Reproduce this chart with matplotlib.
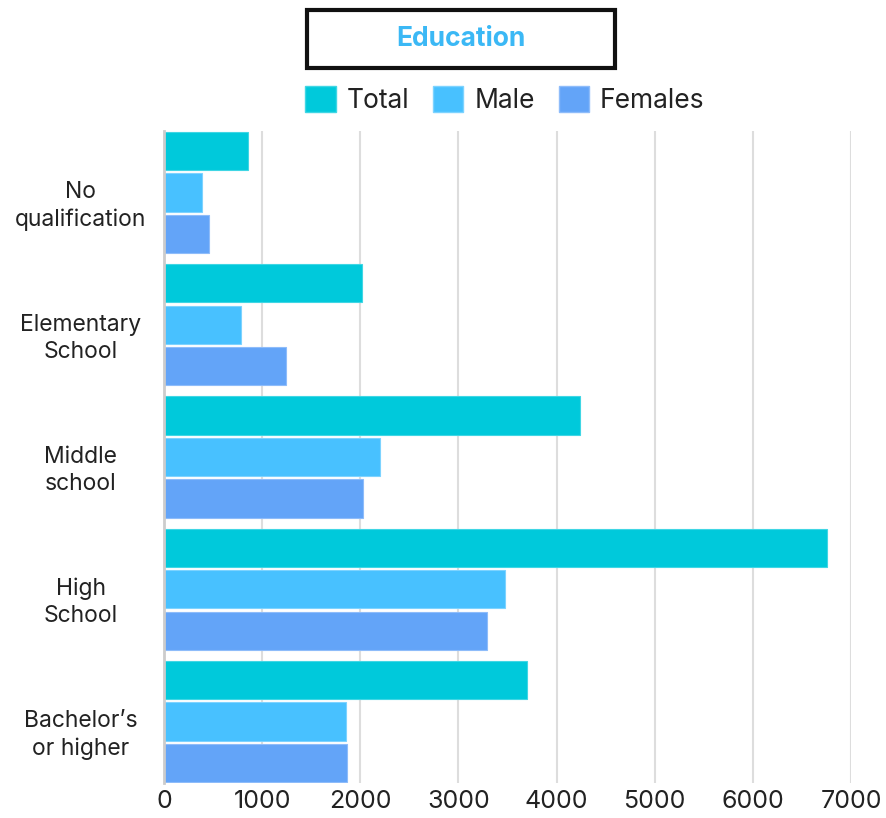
import matplotlib.pyplot as plt
from matplotlib.patches import Rectangle, Patch
from matplotlib.transforms import ScaledTranslation
import numpy as np

categories = ['No\nqualification', 'Elementary\nSchool', 'Middle\nschool', 'High\nSchool', 'Bachelor\u2019s\nor higher']
total = [860, 2020, 4240, 6760, 3700]
male = [390, 780, 2200, 3470, 1850]
females = [460, 1240, 2030, 3290, 1860]
series_names = ['Total', 'Male', 'Females']
colors = ['#00C9DB', '#48C1FF', '#63A4F8']
edges = ['#40D6E4', '#7DD3FF', '#8EBCFA']

plt.rcParams['font.family'] = ['Inter', 'DejaVu Sans']

fig = plt.figure(figsize=(8.86, 8.18), dpi=100)
ax = fig.add_axes([164 / 886, 35 / 818, (851 - 164) / 886, (783 - 131) / 818])

y = np.arange(len(categories))
bar_h = 0.29
step = 0.314
for k, vals in enumerate([total, male, females]):
    ax.barh(y + (k - 1) * step, vals, height=bar_h, color=colors[k],
            edgecolor=edges[k], linewidth=0.8, zorder=3)

ax.set_xlim(0, 7000)
ax.set_ylim(len(categories) - 1 + 0.465, -0.465)
ax.set_xticks(np.arange(0, 7001, 1000))
ax.set_yticks(y)
ax.set_yticklabels(categories, fontsize=16.5, color='#222222', ha='center',
                   multialignment='center', linespacing=1.3)
ax.tick_params(axis='y', length=0, pad=60)
ax.tick_params(axis='x', length=0, pad=5, labelsize=18, labelcolor='#222222')
# labels sit a little below the group centre in the original
shift = ScaledTranslation(0, -6 / 72, fig.dpi_scale_trans)
for lab in ax.get_yticklabels():
    lab.set_transform(lab.get_transform() + shift)
ax.grid(axis='x', color='#DDDDDD', linewidth=1.5, zorder=0)
for s in ['top', 'right', 'bottom']:
    ax.spines[s].set_visible(False)
ax.spines['left'].set_color('#CCCCCC')
ax.spines['left'].set_linewidth(2)
ax.spines['left'].set_zorder(4)

# title box
fig.patches.append(Rectangle((307 / 886, 1 - 68 / 818), (615 - 307) / 886, 58 / 818,
                             transform=fig.transFigure, facecolor='white',
                             edgecolor='#111111', linewidth=3))
fig.text(461 / 886, 1 - 39 / 818, 'Education', ha='center', va='center',
         fontsize=19, fontweight='bold', color='#3BB8F5')

handles = [Patch(facecolor=colors[k], edgecolor=edges[k]) for k in range(3)]
fig.legend(handles, series_names, loc='center', bbox_to_anchor=(505 / 886, 1 - 100 / 818),
           ncol=3, frameon=False, fontsize=19, handlelength=1.15, handleheight=1.1,
           handletextpad=0.42, columnspacing=0.9, labelcolor='#222222')

fig.savefig('out.png', dpi=100)
